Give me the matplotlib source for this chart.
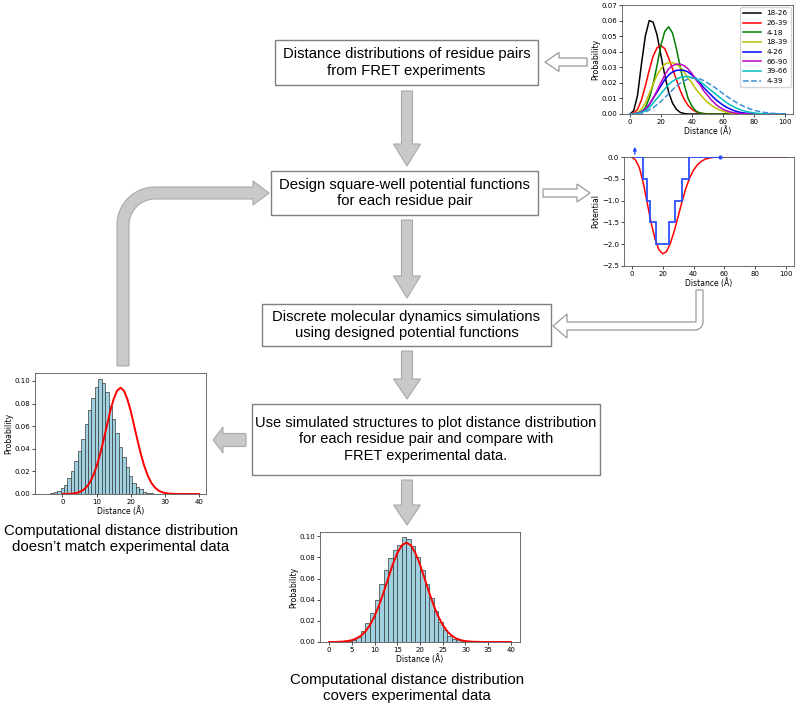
import numpy as np
import matplotlib
matplotlib.use('Agg')
import matplotlib.pyplot as plt
from matplotlib.patches import Rectangle, FancyArrow, Polygon

# ---- data ----
# FRET distance distributions (Å grid every 2.5 from 0 to 100)
dist_x = np.arange(0, 100.1, 2.5)
pair_labels = ['18-26', '26-39', '4-18', '18-39', '4-26', '66-90', '39-66', '4-39']
p_18_26 = [0, 0.002, 0.012, 0.032, 0.050, 0.060, 0.059, 0.051, 0.038, 0.025, 0.014,
           0.007, 0.003, 0.001, 0.0003] + [0.0] * 26
p_26_39 = [0, 0.0005, 0.003, 0.009, 0.018, 0.028, 0.037, 0.0425, 0.044, 0.042, 0.036,
           0.029, 0.022, 0.015, 0.0095, 0.0055, 0.003, 0.0015, 0.0007, 0.0003, 0.0001] + [0.0] * 20
p_4_18 = [0, 0, 0.0003, 0.001, 0.004, 0.010, 0.019, 0.031, 0.044, 0.053, 0.056, 0.052,
          0.042, 0.030, 0.019, 0.010, 0.005, 0.002, 0.0007, 0.0002] + [0.0] * 21
p_18_39 = [0, 0.0002, 0.001, 0.003, 0.007, 0.013, 0.019, 0.025, 0.029, 0.032, 0.033, 0.033,
           0.032, 0.030, 0.027, 0.023, 0.020, 0.016, 0.013, 0.010, 0.0075, 0.0055, 0.004,
           0.0027, 0.0018, 0.0011, 0.0007, 0.0004, 0.0002, 0.0001] + [0.0] * 11
p_4_26 = [0, 0.0001, 0.0005, 0.0015, 0.003, 0.006, 0.010, 0.014, 0.018, 0.022, 0.025, 0.027,
          0.028, 0.0282, 0.028, 0.027, 0.025, 0.023, 0.020, 0.017, 0.0145, 0.012, 0.0095,
          0.0075, 0.0057, 0.0042, 0.003, 0.002, 0.0013, 0.0008, 0.0005, 0.0003, 0.0001] + [0.0] * 8
p_66_90 = [0, 0.0001, 0.0004, 0.0012, 0.003, 0.006, 0.010, 0.015, 0.020, 0.025, 0.029, 0.031,
           0.032, 0.032, 0.031, 0.029, 0.026, 0.022, 0.019, 0.015, 0.012, 0.009, 0.0065,
           0.0045, 0.003, 0.002, 0.0012, 0.0007, 0.0004, 0.0002, 0.0001] + [0.0] * 10
p_39_66 = [0, 0, 0.0003, 0.001, 0.002, 0.004, 0.007, 0.010, 0.013, 0.016, 0.019, 0.021,
           0.0225, 0.0235, 0.024, 0.024, 0.0235, 0.0225, 0.021, 0.019, 0.017, 0.015, 0.013,
           0.011, 0.009, 0.0072, 0.0056, 0.0043, 0.0032, 0.0023, 0.0016, 0.0011, 0.0007,
           0.0004, 0.0002, 0.0001] + [0.0] * 5
p_4_39 = [0, 0, 0.0002, 0.0006, 0.0013, 0.0025, 0.004, 0.006, 0.008, 0.0105, 0.013, 0.0155,
          0.018, 0.0198, 0.0213, 0.0225, 0.023, 0.023, 0.0225, 0.0215, 0.020, 0.0185, 0.0168,
          0.015, 0.013, 0.0113, 0.0096, 0.008, 0.0066, 0.0053, 0.0042, 0.0032, 0.0024, 0.0018,
          0.0013, 0.0009, 0.0006, 0.0004, 0.0002, 0.0001, 0]
pair_colors = ['k', 'r', 'g', 'y', 'b', 'm', 'c', '#3d8fd6']

# square-well potential
well_edges = [2, 7, 9.7, 12, 16, 24, 28.3, 32.6, 37, 57]
well_levels = [0, -0.5, -1.0, -1.5, -2.0, -1.5, -1.0, -0.5, 0]
pot_smooth = [0, -0.07, -0.25, -0.6, -1.05, -1.5, -1.87, -2.12, -2.22, -2.17, -1.98, -1.7,
              -1.37, -1.03, -0.72, -0.48, -0.3, -0.18, -0.1, -0.05, -0.025, -0.01, -0.004] + [0.0] * 18

# experimental FRET curve (1 Å grid 0..40)
fret_x = np.arange(0, 41)
fret_p = [0, 0, 0.0002, 0.0004, 0.0009, 0.0017, 0.0033, 0.0059, 0.0100, 0.0161, 0.0243,
          0.0348, 0.0470, 0.0602, 0.0733, 0.0840, 0.0914, 0.094, 0.0914, 0.0840, 0.0733,
          0.0602, 0.0470, 0.0348, 0.0243, 0.0161, 0.0100, 0.0059, 0.0033, 0.0017, 0.0009,
          0.0004, 0.0002, 0.0001, 0, 0, 0, 0, 0, 0, 0]

# simulated histograms
bad_centers = np.arange(-4, 27)
bad_hist = [0.0003, 0.0008, 0.0015, 0.003, 0.005, 0.008, 0.014, 0.020, 0.029, 0.038, 0.049,
            0.062, 0.074, 0.085, 0.095, 0.102, 0.098, 0.090, 0.078, 0.066, 0.054, 0.042,
            0.033, 0.024, 0.016, 0.010, 0.006, 0.004, 0.002, 0.001, 0.0005]
good_centers = np.arange(4.5, 30)
good_hist = [0.001, 0.002, 0.005, 0.010, 0.018, 0.027, 0.040, 0.055, 0.068, 0.079, 0.087,
             0.092, 0.099, 0.097, 0.091, 0.080, 0.068, 0.055, 0.042, 0.029, 0.019, 0.011,
             0.006, 0.003, 0.002, 0.001]

W, H = 795, 706
fig = plt.figure(figsize=(W / 100, H / 100), dpi=100)
bg = fig.add_axes([0, 0, 1, 1])
bg.set_xlim(0, W)
bg.set_ylim(H, 0)
bg.axis('off')

TXT = dict(family='Liberation Sans', fontsize=10.8, ha='center', va='center', linespacing=1.2)
EDGE = '#7f7f7f'
GFILL, GEDGE = '#c9c9c9', '#a8a8a8'


def box(x0, y0, x1, y1, text, fs=10.6):
    bg.add_patch(Rectangle((x0, y0), x1 - x0, y1 - y0, fill=False, ec=EDGE, lw=1))
    bg.text((x0 + x1) / 2, (y0 + y1) / 2, text, **{**TXT, 'fontsize': fs})


box(275, 40, 538, 85, 'Distance distributions of residue pairs\nfrom FRET experiments', 10.7)
box(271, 171, 538, 215, 'Design square-well potential functions\nfor each residue pair', 10.7)
box(262, 304, 551, 346, 'Discrete molecular dynamics simulations\nusing designed potential functions')
box(252, 404, 600, 475, 'Use simulated structures to plot distance distribution\n'
    'for each residue pair and compare with\nFRET experimental data.', 10.5)

bg.text(121, 539, 'Computational distance distribution\ndoesn\u2019t match experimental data', **TXT)
bg.text(407, 688, 'Computational distance distribution\ncovers experimental data', **TXT)


# solid gray arrows
def gray_arrow(x, y, dx, dy, w=11, hw=27, hl=22):
    bg.add_patch(FancyArrow(x, y, dx, dy, width=w, head_width=hw, head_length=hl,
                            length_includes_head=True, fc=GFILL, ec=GEDGE, lw=0.8))


gray_arrow(407, 91, 0, 75)
gray_arrow(407, 220, 0, 78)
gray_arrow(407, 351, 0, 48, hl=20)
gray_arrow(407, 480, 0, 45, hl=20)
gray_arrow(246, 440, -33, 0, w=13, hw=26, hl=10)

# curved arrow going back up to the design step
t = np.linspace(np.pi, 1.5 * np.pi, 20)
cx, cy = 155, 225
outer = np.column_stack([cx + 38 * np.cos(t), cy + 38 * np.sin(t)])
inner = np.column_stack([cx + 26 * np.cos(t), cy + 26 * np.sin(t)])[::-1]
pts = np.vstack([[[117, 366]], outer, [[253, 187], [253, 181], [269, 193], [253, 205], [253, 199]],
                 inner, [[129, 366]]])
bg.add_patch(Polygon(pts, closed=True, fc=GFILL, ec=GEDGE, lw=0.8))


# hollow arrows
def hollow_arrow(x, y, dx, w=8, hw=19, hl=14):
    bg.add_patch(FancyArrow(x, y, dx, 0, width=w, head_width=hw, head_length=hl,
                            length_includes_head=True, fc='white', ec='#9a9a9a', lw=0.9))


hollow_arrow(587, 62, -42)
hollow_arrow(543, 193, 47, hw=18, hl=13)
t2 = np.linspace(0.5 * np.pi, 0, 8)
corner = np.column_stack([695 + 8 * np.cos(t2), 322 + 8 * np.sin(t2)])
pts2 = np.vstack([[[696, 290], [696, 322], [567, 322], [567, 314], [553, 326], [567, 338],
                   [567, 330]], corner, [[703, 290]]])
bg.add_patch(Polygon(pts2, closed=True, fc='white', ec='#9a9a9a', lw=0.9))


# ---- inset plots ----
def inset(l, t, r, b):
    ax = fig.add_axes([l / W, 1 - b / H, (r - l) / W, (b - t) / H])
    ax.tick_params(labelsize=5, length=2, width=0.5, pad=1.5)
    for s in ax.spines.values():
        s.set_linewidth(0.6)
        s.set_color('#555555')
    return ax


LAB = dict(fontsize=5.5, labelpad=1)

ax1 = inset(622, 5, 793, 114)
for vals, lab, col in zip([p_18_26, p_26_39, p_4_18, p_18_39, p_4_26, p_66_90, p_39_66, p_4_39],
                          pair_labels, pair_colors):
    ax1.plot(dist_x, vals, color=col, lw=1.1, ls='--' if lab == '4-39' else '-', label=lab)
ax1.set_xlim(-5, 105)
ax1.set_ylim(0, 0.07)
ax1.set_xticks([0, 20, 40, 60, 80, 100])
ax1.set_yticks(np.arange(0, 0.071, 0.01))
ax1.set_xlabel('Distance (Å)', **LAB)
ax1.set_ylabel('Probability', **LAB)
ax1.legend(loc='upper right', fontsize=5.2, handlelength=2.4, labelspacing=0.5,
           borderpad=0.45, handletextpad=0.8, borderaxespad=0.3)

ax2 = inset(624, 157, 794, 266)
ax2.plot(dist_x, pot_smooth, color='r', lw=1.1, zorder=2)
ax2.stairs(well_levels, well_edges, baseline=None, color='#2b50ff', lw=1.3, zorder=3)
ax2.annotate('', xy=(well_edges[0], 0.3), xytext=(well_edges[0], 0), annotation_clip=False,
             arrowprops=dict(arrowstyle='-|>', color='#2b50ff', lw=1, mutation_scale=5))
ax2.plot([well_edges[-1]], [0], 'o', color='#2b50ff', ms=2, clip_on=False, zorder=4)
ax2.set_xlim(-5, 105)
ax2.set_ylim(-2.5, 0)
ax2.set_xticks([0, 20, 40, 60, 80, 100])
ax2.set_yticks([0, -0.5, -1.0, -1.5, -2.0, -2.5])
ax2.set_xlabel('Distance (Å)', **LAB)
ax2.set_ylabel('Potential', **LAB)

BAR = dict(width=1, color='#9fd1e1', edgecolor='#3a3a3a', linewidth=0.5)

ax3 = inset(35, 373, 206, 494)
ax3.bar(bad_centers, bad_hist, **BAR)
ax3.plot(fret_x, fret_p, color='r', lw=1.4)
ax3.set_xlim(-8, 42)
ax3.set_ylim(0, 0.107)
ax3.set_xticks([0, 10, 20, 30, 40])
ax3.set_yticks(np.arange(0, 0.101, 0.02))
ax3.set_xlabel('Distance (Å)', **LAB)
ax3.set_ylabel('Probability', **LAB)

ax4 = inset(320, 532, 520, 642)
ax4.bar(good_centers, good_hist, **BAR)
ax4.plot(fret_x, fret_p, color='r', lw=1.4)
ax4.set_xlim(-2, 42)
ax4.set_ylim(0, 0.104)
ax4.set_xticks(np.arange(0, 41, 5))
ax4.set_yticks(np.arange(0, 0.101, 0.02))
ax4.set_xlabel('Distance (Å)', **LAB)
ax4.set_ylabel('Probability', **LAB)

fig.savefig('out.png', dpi=100, facecolor='white')
